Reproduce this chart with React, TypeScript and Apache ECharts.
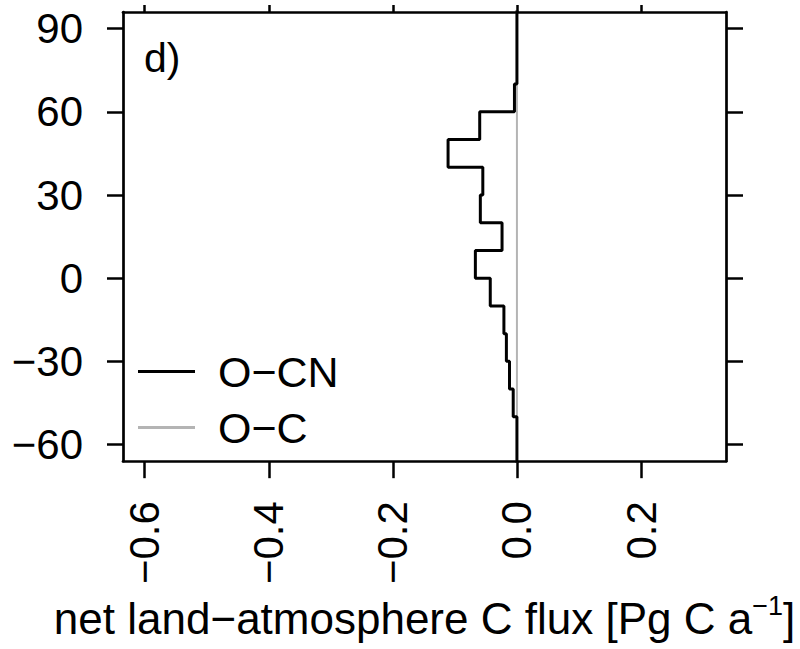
import React, { useEffect, useRef } from 'react';
import * as echarts from 'echarts';

// Latitude bin edges (degrees); the top bin is drawn up to the frame
const latEdges = [-90, -80, -70, -60, -50, -40, -30, -20, -10, 0, 10, 20, 30, 40, 50, 60, 70, 80, 100];
// Net land-atmosphere C flux per latitude bin [Pg C a^-1]
const ocnFlux = [0, 0, 0, 0, -0.006, -0.012, -0.017, -0.021, -0.043, -0.067, -0.024, -0.059, -0.055, -0.111, -0.06, -0.004, 0, 0];
const ocFlux = [0, 0, 0, 0, 0, 0, 0, 0, 0, 0, 0, 0, 0, 0, 0, 0, 0, 0];
const latTicks = [-60, -30, 0, 30, 60, 90];
const fluxTicks = [-0.6, -0.4, -0.2, 0, 0.2];
const seriesNames = ['O\u2212CN', 'O\u2212C'];
const axisTitle = 'net land\u2212atmosphere C flux [Pg C a{sup|\u22121}]';
const panelLabel = 'd)';

function steps(vals: number[]) {
  const pts: number[][] = [];
  vals.forEach((v, i) => {
    pts.push([v, latEdges[i]]);
    pts.push([v, latEdges[i + 1]]);
  });
  return pts;
}
const minus = (s: string) => s.replace('-', '\u2212');

export default function App() {
  const ref = useRef<HTMLDivElement>(null);
  useEffect(() => {
    document.body.style.margin = '0';
    const chart = echarts.init(ref.current!, null, { renderer: 'svg' });
    const font = '"Liberation Sans", Arial, sans-serif';
    const frame = { show: true, onZero: false, lineStyle: { color: '#000', width: 2.7 } };
    const tickStyle = { color: '#000', width: 2.5 };
    const xMin = -0.635, xMax = 0.337, yMin = -66, yMax = 96;
    chart.setOption({
      animation: false,
      backgroundColor: '#fff',
      textStyle: { fontFamily: font },
      grid: { left: 123, top: 12, width: 603, height: 453 },
      xAxis: [
        {
          type: 'value', position: 'bottom', min: xMin, max: xMax,
          axisLine: frame,
          axisTick: { show: true, length: 17, lineStyle: tickStyle, customValues: fluxTicks },
          axisLabel: {
            customValues: fluxTicks, rotate: 90, margin: 40, fontSize: 42, color: '#000', fontFamily: font,
            formatter: (v: number) => minus(v.toFixed(1)),
          },
          splitLine: { show: false },
          name: axisTitle, nameLocation: 'middle', nameGap: 127,
          nameTextStyle: {
            fontSize: 44, color: '#000', fontFamily: font, lineHeight: 52,
            rich: { sup: { fontSize: 27, color: '#000', fontFamily: font, verticalAlign: 'top', lineHeight: 27 } },
          },
        },
        {
          type: 'value', position: 'top', min: xMin, max: xMax,
          axisLine: frame,
          axisTick: { show: true, length: 7, lineStyle: tickStyle, customValues: fluxTicks },
          axisLabel: { show: false },
          splitLine: { show: false },
        },
      ],
      yAxis: [
        {
          type: 'value', position: 'left', min: yMin, max: yMax,
          axisLine: frame,
          axisTick: { show: true, length: 16, lineStyle: tickStyle, customValues: latTicks },
          axisLabel: {
            customValues: latTicks, margin: 40, fontSize: 42, color: '#000', fontFamily: font,
            formatter: (v: number) => minus(String(v)),
          },
          splitLine: { show: false },
        },
        {
          type: 'value', position: 'right', min: yMin, max: yMax,
          axisLine: frame,
          axisTick: { show: true, length: 17, lineStyle: tickStyle, customValues: latTicks },
          axisLabel: { show: false },
          splitLine: { show: false },
        },
      ],
      legend: {
        orient: 'vertical', left: 133, top: 345,
        icon: 'rect',
        itemWidth: 57, itemHeight: 3, itemGap: 13,
        data: seriesNames,
        textStyle: { fontSize: 43, lineHeight: 42, color: '#000', fontFamily: font, padding: [0, 0, 0, 18] },
      },
      series: [
        {
          name: seriesNames[1], type: 'line', data: steps(ocFlux), symbol: 'none', clip: true, z: 2,
          color: '#b4b4b4', itemStyle: { color: '#b4b4b4' }, lineStyle: { color: '#b4b4b4', width: 2 },
        },
        {
          name: seriesNames[0], type: 'line', data: steps(ocnFlux), symbol: 'none', clip: true, z: 3,
          color: '#000', itemStyle: { color: '#000' }, lineStyle: { color: '#000', width: 3 },
        },
      ],
      graphic: [
        { type: 'text', left: 144, top: 37, style: { text: panelLabel, fontSize: 41, fill: '#000', fontFamily: font } },
      ],
    });
    return () => chart.dispose();
  }, []);
  return <div ref={ref} style={{ width: 800, height: 649 }} />;
}
